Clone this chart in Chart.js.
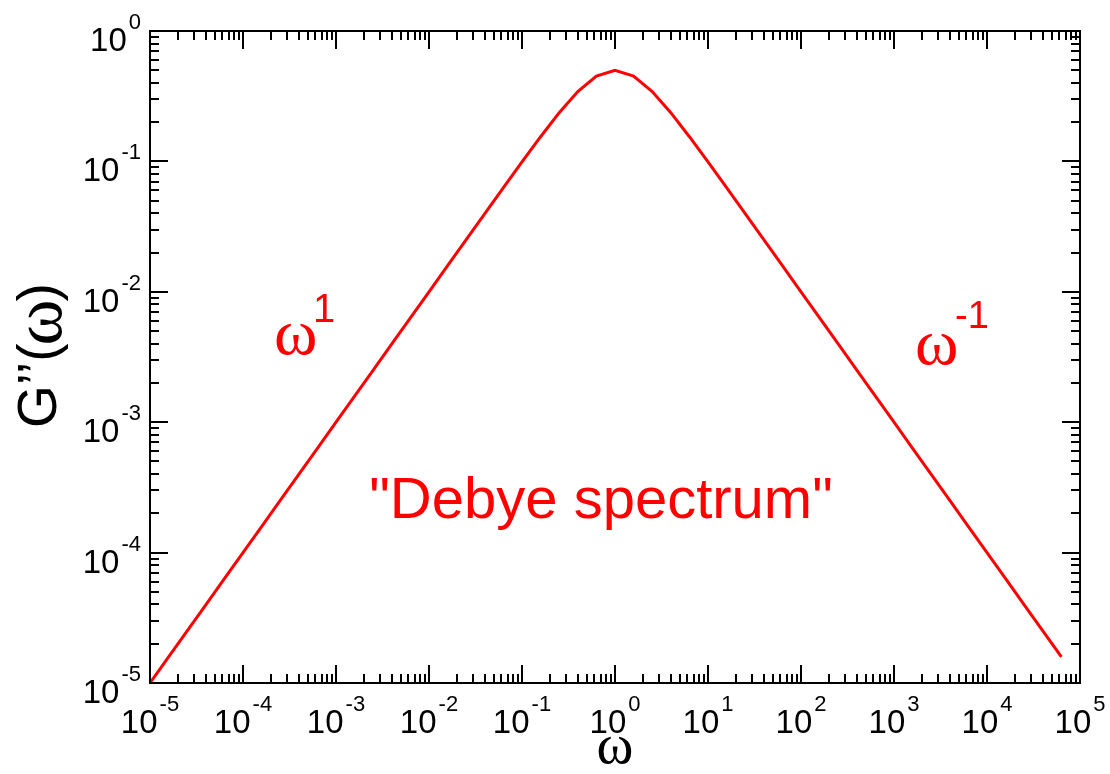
<!DOCTYPE html>
<html>
<head>
<meta charset="utf-8">
<script src="https://cdn.jsdelivr.net/npm/chart.js@4.4.1/dist/chart.umd.min.js"></script>
<style>
  html, body { margin: 0; padding: 0; background: #fff; }
  #wrap { width: 1110px; height: 774px; position: relative; }
</style>
</head>
<body>
<div id="wrap"><canvas id="debyeChart"></canvas></div>
<script>
const omega = [
    1e-5, 1.585e-5, 2.512e-5, 3.981e-5, 6.310e-5,
    1e-4, 1.585e-4, 2.512e-4, 3.981e-4, 6.310e-4,
    1e-3, 1.585e-3, 2.512e-3, 3.981e-3, 6.310e-3,
    1e-2, 1.585e-2, 2.512e-2, 3.981e-2, 6.310e-2,
    1e-1, 1.585e-1, 2.512e-1, 3.981e-1, 6.310e-1,
    1, 1.585, 2.512, 3.981, 6.310,
    10, 15.85, 25.12, 39.81, 63.10,
    100, 158.5, 251.2, 398.1, 631.0,
    1000, 1585, 2512, 3981, 6310,
    1e4, 1.585e4, 2.512e4, 3.981e4, 6.310e4
];
const gpp = [
    1e-5, 1.585e-5, 2.512e-5, 3.981e-5, 6.310e-5,
    1e-4, 1.585e-4, 2.512e-4, 3.981e-4, 6.310e-4,
    1e-3, 1.585e-3, 2.512e-3, 3.981e-3, 6.310e-3,
    0.009999, 0.015845, 0.025103, 0.039748, 0.062846,
    0.099010, 0.154606, 0.236281, 0.343645, 0.451294,
    0.5, 0.451294, 0.343645, 0.236281, 0.154606,
    0.099010, 0.062846, 0.039748, 0.025103, 0.015845,
    0.009999, 6.310e-3, 3.981e-3, 2.512e-3, 1.585e-3,
    1e-3, 6.310e-4, 3.981e-4, 2.512e-4, 1.585e-4,
    1e-4, 6.310e-5, 3.981e-5, 2.512e-5, 1.585e-5
];
const xDecades = [-5, -4, -3, -2, -1, 0, 1, 2, 3, 4, 5];
const yDecades = [-5, -4, -3, -2, -1, 0];

const SANS = '"Liberation Sans", Arial, sans-serif';
const SERIF = '"Liberation Serif", serif';

function powerLabel(ctx, exp, x, y, align) {
    ctx.font = '33px ' + SANS;
    const wBase = ctx.measureText('10').width;
    ctx.font = '22px ' + SANS;
    const wExp = ctx.measureText(String(exp)).width;
    let left = align === 'center' ? x - (wBase + wExp + 2) / 2 : x - (wBase + wExp + 2);
    ctx.textAlign = 'left';
    ctx.font = '33px ' + SANS;
    ctx.fillText('10', left, y);
    ctx.font = '22px ' + SANS;
    ctx.fillText(String(exp), left + wBase + 2, y - 22);
}

const framePlugin = {
    id: 'frame',
    afterDraw(chart) {
        const ctx = chart.ctx;
        const a = chart.chartArea;
        const xs = chart.scales.x, ys = chart.scales.y;
        ctx.save();
        ctx.strokeStyle = '#000';
        ctx.fillStyle = '#000';
        ctx.lineWidth = 2;
        ctx.strokeRect(a.left, a.top, a.right - a.left, a.bottom - a.top);

        ctx.beginPath();
        xDecades.forEach(k => {
            for (let m = 1; m <= 9; m++) {
                const v = m * Math.pow(10, k);
                if (v > 1e5 * 1.0001) break;
                const px = Math.round(xs.getPixelForValue(v));
                const len = m === 1 ? 18 : 9;
                ctx.moveTo(px, a.bottom); ctx.lineTo(px, a.bottom - len);
                ctx.moveTo(px, a.top); ctx.lineTo(px, a.top + len);
            }
        });
        yDecades.forEach(k => {
            for (let m = 1; m <= 9; m++) {
                const v = m * Math.pow(10, k);
                if (v > 1.0001) break;
                const py = Math.round(ys.getPixelForValue(v));
                const len = m === 1 ? 18 : 9;
                ctx.moveTo(a.left, py); ctx.lineTo(a.left + len, py);
                ctx.moveTo(a.right, py); ctx.lineTo(a.right - len, py);
            }
        });
        ctx.stroke();

        ctx.textBaseline = 'alphabetic';
        xDecades.forEach(k => {
            powerLabel(ctx, k, xs.getPixelForValue(Math.pow(10, k)), a.bottom + 50, 'center');
        });
        yDecades.forEach(k => {
            powerLabel(ctx, k, a.left - 9, ys.getPixelForValue(Math.pow(10, k)) + 20, 'right');
        });

        // axis titles
        ctx.textAlign = 'center';
        ctx.font = '56px ' + SERIF;
        ctx.fillText('ω', (a.left + a.right) / 2, 763);

        ctx.save();
        ctx.translate(56, 428);
        ctx.rotate(-Math.PI / 2);
        ctx.textAlign = 'left';
        let cx = 0;
        ctx.font = '55px ' + SANS;
        ctx.fillText('G’’(', cx, 0);
        cx += ctx.measureText('G’’(').width;
        ctx.font = '70px ' + SERIF;
        ctx.fillText('ω', cx - 2, 5);
        cx += ctx.measureText('ω').width - 4;
        ctx.font = '55px ' + SANS;
        ctx.fillText(')', cx, 0);
        ctx.restore();

        // annotations
        ctx.fillStyle = '#ff0000';
        ctx.textAlign = 'left';
        ctx.font = '66px ' + SERIF;
        ctx.fillText('ω', 274, 354);
        ctx.fillText('ω', 915, 364);
        ctx.font = '40px ' + SANS;
        ctx.fillText('1', 313, 322);
        ctx.font = '38px ' + SANS;
        ctx.fillText('-1', 955, 328);
        ctx.textAlign = 'center';
        ctx.font = '58px ' + SANS;
        ctx.fillText('"Debye spectrum"', 601, 518);
        ctx.restore();
    }
};

const ctx = document.getElementById('debyeChart').getContext('2d');

new Chart(ctx, {
    type: 'line',
    data: {
        datasets: [{
            label: "G''",
            data: omega.map((w, i) => ({ x: w, y: gpp[i] })),
            borderColor: '#ff0000',
            borderWidth: 3,
            pointRadius: 0,
            tension: 0,
            fill: false
        }]
    },
    options: {
        responsive: true,
        maintainAspectRatio: false,
        animation: false,
        layout: {
            padding: { left: 150, right: 30, top: 31, bottom: 91 }
        },
        scales: {
            x: { type: 'logarithmic', min: 1e-5, max: 1e5, display: false },
            y: { type: 'logarithmic', min: 1e-5, max: 1, display: false }
        },
        plugins: {
            legend: { display: false },
            tooltip: { enabled: false }
        }
    },
    plugins: [framePlugin]
});
</script>
</body>
</html>
